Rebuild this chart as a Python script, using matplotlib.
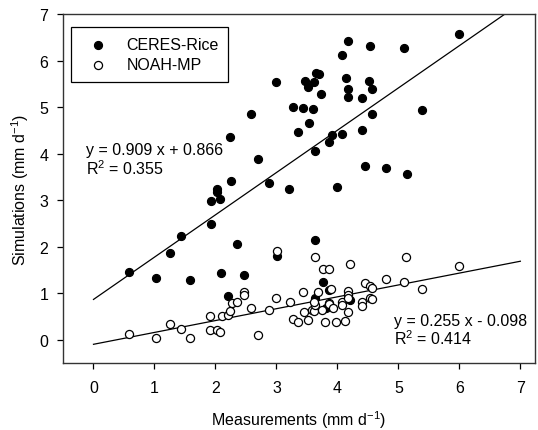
import numpy as np
import matplotlib
matplotlib.use('Agg')
import matplotlib.pyplot as plt

plt.rcParams['font.family'] = ['Liberation Sans', 'DejaVu Sans']
plt.rcParams['mathtext.fontset'] = 'custom'
plt.rcParams['mathtext.rm'] = 'Liberation Sans'
plt.rcParams['mathtext.it'] = 'Liberation Sans:italic'

# CERES-Rice (filled)
ceres_x = [0.59, 1.02, 1.25, 1.43, 1.59, 1.92, 1.92, 2.03, 2.03, 2.07,
           2.09, 2.21, 2.24, 2.26, 2.35, 2.47, 2.59, 2.70, 2.87, 3.00,
           3.01, 3.21, 3.27, 3.35, 3.43, 3.47, 3.52, 3.53, 3.60, 3.62,
           3.63, 3.64, 3.65, 3.70, 3.73, 3.87, 3.91, 3.99, 4.07, 4.07,
           4.14, 4.17, 4.18, 4.18, 4.40, 4.41, 4.45, 4.52, 4.53, 4.56,
           4.56, 4.80, 5.09, 5.14, 5.38, 3.76, 3.87, 3.64, 3.81, 4.21,
           5.99]
ceres_y = [1.45, 1.32, 1.86, 2.23, 1.29, 2.48, 2.98, 3.25, 3.18, 3.03,
           1.43, 0.93, 4.35, 3.41, 2.05, 1.39, 4.85, 3.89, 3.37, 5.53,
           1.81, 3.23, 5.00, 4.46, 4.98, 5.55, 5.44, 4.66, 4.96, 5.53,
           4.05, 2.14, 5.73, 5.71, 5.28, 4.25, 4.39, 3.28, 6.12, 4.43,
           5.62, 6.41, 5.39, 5.21, 5.19, 4.51, 3.73, 5.55, 6.32, 5.39,
           4.85, 3.69, 6.28, 3.57, 4.94, 1.23, 1.07, 0.89, 0.68, 0.86,
           6.57]

# NOAH-MP (open)
noah_x = [0.59, 1.02, 1.25, 1.43, 1.59, 1.91, 1.91, 2.03, 2.07, 2.10,
          2.21, 2.24, 2.27, 2.35, 2.47, 2.47, 2.59, 2.70, 2.87, 3.00,
          3.01, 3.22, 3.27, 3.35, 3.44, 3.46, 3.52, 3.59, 3.62, 3.63,
          3.62, 3.64, 3.68, 3.74, 3.76, 3.80, 3.87, 3.87, 3.87, 3.90,
          3.92, 3.98, 4.07, 4.08, 4.13, 4.18, 4.18, 4.18, 4.18, 4.20,
          4.40, 4.41, 4.45, 4.53, 4.56, 4.53, 4.56, 4.80, 5.09, 5.13,
          5.38, 5.99]
noah_y = [0.12, 0.04, 0.34, 0.24, 0.04, 0.51, 0.21, 0.21, 0.16, 0.51,
          0.54, 0.62, 0.80, 0.82, 1.02, 0.97, 0.68, 0.11, 0.64, 0.89,
          1.91, 0.82, 0.44, 0.38, 1.03, 0.59, 0.43, 0.64, 0.61, 0.74,
          0.82, 1.77, 1.02, 0.64, 1.51, 0.38, 1.51, 0.80, 0.76, 1.09,
          0.68, 0.39, 0.82, 0.75, 0.41, 1.05, 0.96, 0.89, 0.59, 1.63,
          0.82, 0.73, 1.21, 1.16, 1.11, 0.89, 0.88, 1.31, 1.24, 1.77,
          1.09, 1.59]

# regression lines as annotated (slope, intercept, R2)
ceres_fit = (0.909, 0.866, 0.355)
noah_fit = (0.255, -0.098, 0.414)

fig = plt.figure(figsize=(5.38, 4.31), dpi=100)
ax = fig.add_axes([63/538, 67/431, 472/538, 349/431])

line_x = np.array([0, 7])
ax.plot(line_x, ceres_fit[0]*line_x + ceres_fit[1], color='black', lw=0.9, zorder=2)
ax.plot(line_x, noah_fit[0]*line_x + noah_fit[1], color='black', lw=0.9, zorder=2)

ax.scatter(ceres_x, ceres_y, s=34, facecolor='black', edgecolor='black',
           linewidth=0.8, label='CERES-Rice', zorder=3)
ax.scatter(noah_x, noah_y, s=34, facecolor='white', edgecolor='black',
           linewidth=0.9, label='NOAH-MP', zorder=4)

ax.set_xlim(-0.5, 7.24)
ax.set_ylim(-0.5, 7)
ax.set_xticks(range(0, 8))
ax.set_yticks(range(0, 8))
ax.tick_params(direction='out', length=4.5, width=0.9, labelsize=11.5, colors='black')
ax.tick_params(axis='x', pad=8)
ax.tick_params(axis='y', pad=6)
for s in ax.spines.values():
    s.set_linewidth(1.0)
    s.set_color('#333333')

ax.set_xlabel('Measurements (mm d$^{-1}$)', fontsize=11.5, labelpad=9)
ax.set_ylabel('Simulations (mm d$^{-1}$)', fontsize=11.5, labelpad=6)

ax.text(-0.13, 4.0, 'y = %.3f x + %.3f' % (ceres_fit[0], ceres_fit[1]),
        fontsize=11.5, va='baseline', ha='left')
ax.text(-0.13, 3.57, 'R$^2$ = %.3f' % ceres_fit[2],
        fontsize=11.5, va='baseline', ha='left')
ax.text(4.92, 0.32, 'y = %.3f x - %.3f' % (noah_fit[0], -noah_fit[1]),
        fontsize=11.5, va='baseline', ha='left')
ax.text(4.92, -0.09, 'R$^2$ = %.3f' % noah_fit[2],
        fontsize=11.5, va='baseline', ha='left')

leg = ax.legend(loc='upper left', bbox_to_anchor=(0.018, 0.962), borderaxespad=0,
                fontsize=11.5, fancybox=False, edgecolor='black', framealpha=1,
                borderpad=0.6, handlelength=2.18, handletextpad=0.65,
                labelspacing=0.35)
leg.get_frame().set_linewidth(0.9)

fig.savefig('out.png', dpi=100)
